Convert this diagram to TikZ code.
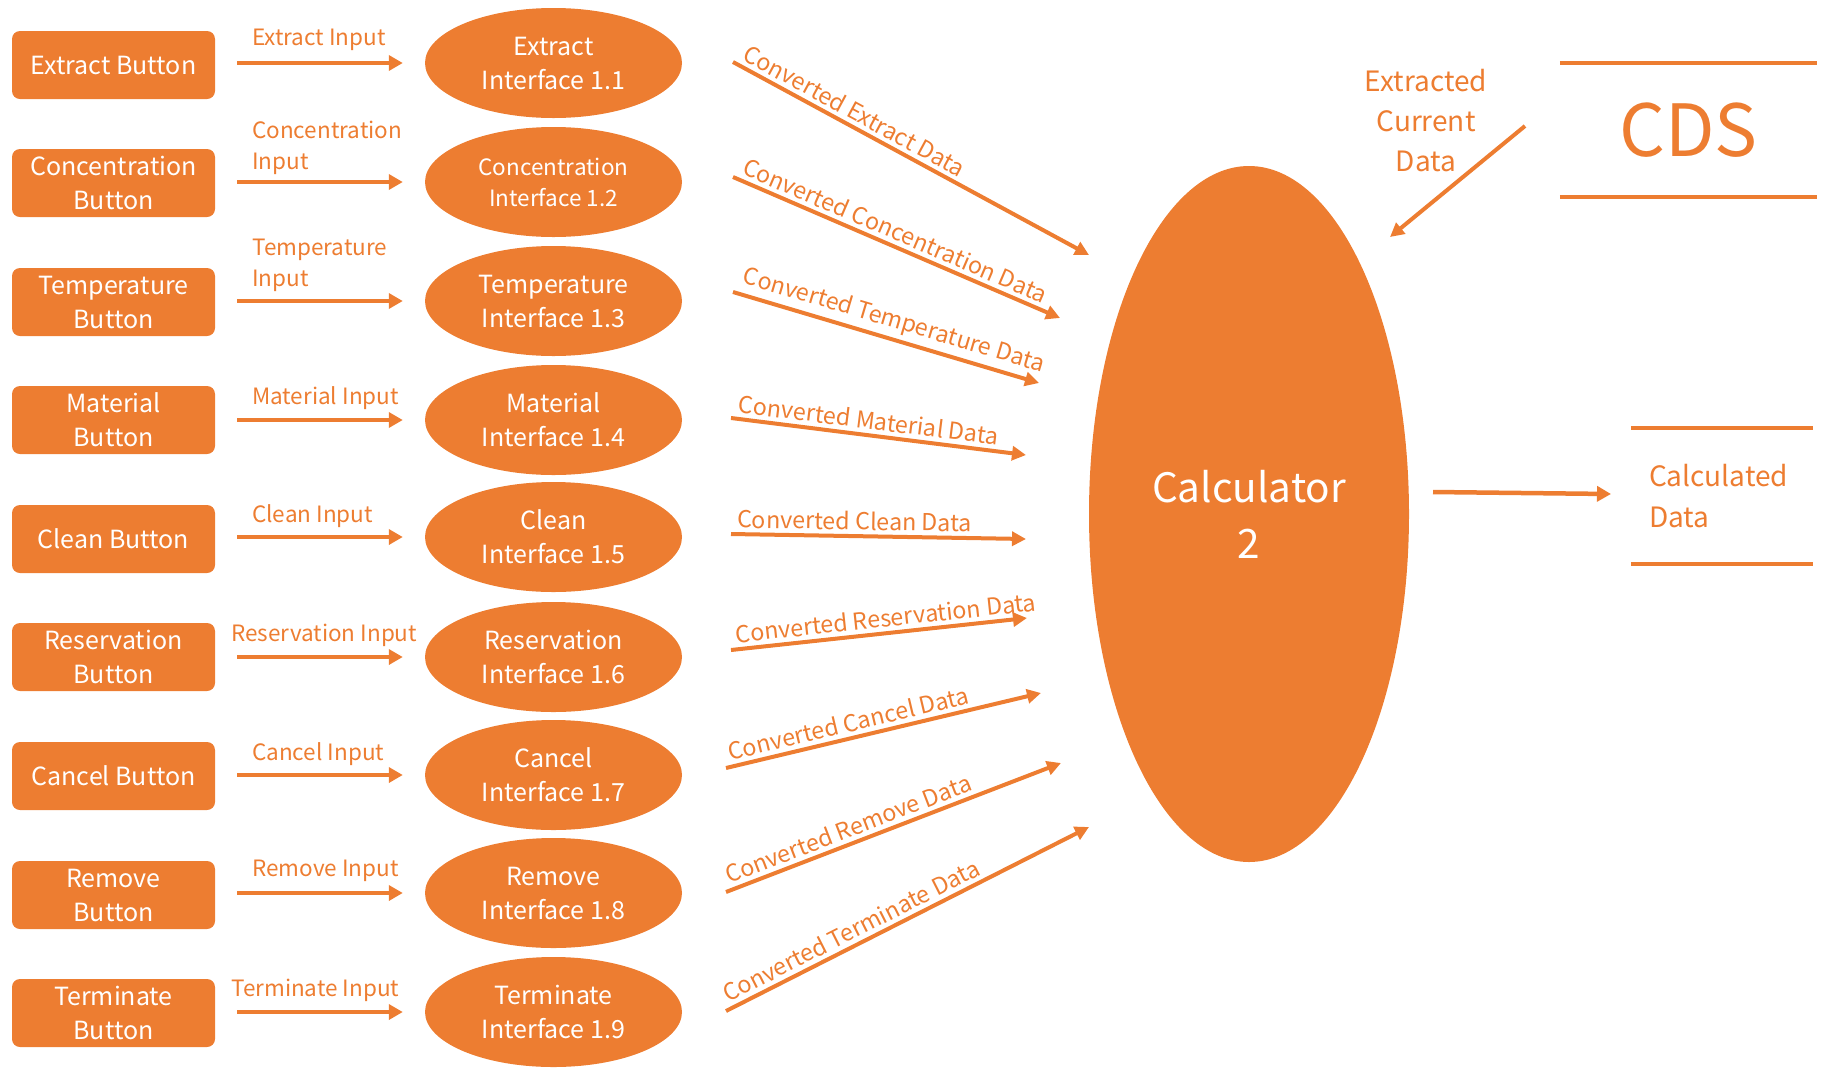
\documentclass[tikz,border=0pt]{standalone}
\usepackage{fontspec}
\setmainfont{Noto Sans CJK KR}
\usetikzlibrary{arrows.meta,shapes.geometric,calc}
\definecolor{org}{HTML}{ED7D31}
\begin{document}
\begin{tikzpicture}[x=1pt,y=-1pt,
 btn/.style={rectangle,rounded corners=8pt,fill=org,text=white,minimum width=203pt,minimum height=68pt,align=center,inner sep=0pt,font=\fontsize{25}{34}\selectfont},
 ifc/.style={ellipse,fill=org,text=white,minimum width=257pt,minimum height=110pt,inner sep=0pt,align=center,font=\fontsize{25}{34}\selectfont},
 flow/.style={draw=org,line width=4.5pt,-{Triangle[length=14pt,width=15pt]}},
 cflow/.style={draw=org,line width=4pt,-{Triangle[length=14pt,width=14pt]}},
 lbl/.style={text=org,font=\fontsize{22.5}{31}\selectfont,align=left,inner sep=0pt,anchor=west},
 clbl/.style={text=org,font=\fontsize{23.3}{26}\selectfont,inner sep=4pt,sloped,pos=0,anchor=south west},
 store/.style={draw=org,line width=3.5pt},
]
\useasboundingbox (0,0) rectangle (1831,1069);

% buttons
\node[btn] (b1) at (113.5,65) {Extract Button};
\node[btn] (b2) at (113.5,183) {Concentration\\Button};
\node[btn] (b3) at (113.5,302) {Temperature\\Button};
\node[btn] (b4) at (113.5,420) {Material\\Button};
\node[btn] (b5) at (113.5,539) {Clean Button};
\node[btn] (b6) at (113.5,657) {Reservation\\Button};
\node[btn] (b7) at (113.5,776) {Cancel Button};
\node[btn] (b8) at (113.5,895) {Remove\\Button};
\node[btn] (b9) at (113.5,1013) {Terminate\\Button};

% interfaces
\node[ifc] (i1) at (553.5,63) {Extract\\Interface 1.1};
\node[ifc,font=\fontsize{22.5}{31}\selectfont] (i2) at (553.5,182) {Concentration\\Interface 1.2};
\node[ifc] (i3) at (553.5,301) {Temperature\\Interface 1.3};
\node[ifc] (i4) at (553.5,420) {Material\\Interface 1.4};
\node[ifc] (i5) at (553.5,537) {Clean\\Interface 1.5};
\node[ifc] (i6) at (553.5,657) {Reservation\\Interface 1.6};
\node[ifc] (i7) at (553.5,775) {Cancel\\Interface 1.7};
\node[ifc] (i8) at (553.5,893) {Remove\\Interface 1.8};
\node[ifc] (i9) at (553.5,1012) {Terminate\\Interface 1.9};

% input arrows
\foreach \k in {1,...,9}{
  \draw[flow] ($(b\k.east|-i\k.center)+(22,0)$) -- ($(i\k.west)+(-22,0)$);
}

% input labels
\node[lbl] (l1) at (252,40) {Extract Input};
\node[lbl] (l2) at (252,147.5) {Concentration\\Input};
\node[lbl] (l3) at (252,265) {Temperature\\Input};
\node[lbl] (l4) at (252,398) {Material Input};
\node[lbl] (l5) at (252,516) {Clean Input};
\node[lbl] (l6) at (231,635) {Reservation Input};
\node[lbl] (l7) at (252,754) {Cancel Input};
\node[lbl] (l8) at (252,871) {Remove Input};
\node[lbl] (l9) at (231,990) {Terminate Input};

% calculator
\node[ellipse,fill=org,text=white,minimum width=320pt,minimum height=696pt,inner sep=0pt,align=center,font=\fontsize{40.5}{56}\selectfont] (calc) at (1249,514) {Calculator\\2};

% converted flows
\coordinate (s1) at (733,62);  \coordinate (e1) at (1089,255);
\coordinate (s2) at (733,177); \coordinate (e2) at (1060,318);
\coordinate (s3) at (733,292); \coordinate (e3) at (1039,383);
\coordinate (s4) at (731,418); \coordinate (e4) at (1026,455);
\coordinate (s5) at (731,534); \coordinate (e5) at (1026,539);
\coordinate (s6) at (731,650); \coordinate (e6) at (1027,618);
\coordinate (s7) at (726,768); \coordinate (e7) at (1041,693);
\coordinate (s8) at (726,892); \coordinate (e8) at (1061,763);
\coordinate (s9) at (726,1011);\coordinate (e9) at (1089,827);
\draw[cflow] (s1) -- node[clbl] (c1) {Converted Extract Data} (e1);
\draw[cflow] (s2) -- node[clbl] (c2) {Converted Concentration Data} (e2);
\draw[cflow] (s3) -- node[clbl] (c3) {Converted Temperature Data} (e3);
\draw[cflow] (s4) -- node[clbl] (c4) {Converted Material Data} (e4);
\draw[cflow] (s5) -- node[clbl] (c5) {Converted Clean Data} (e5);
\draw[cflow] (s6) -- node[clbl] (c6) {Converted Reservation Data} (e6);
\draw[cflow] (s7) -- node[clbl] (c7) {Converted Cancel Data} (e7);
\draw[cflow] (s8) -- node[clbl] (c8) {Converted Remove Data} (e8);
\draw[cflow] (s9) -- node[clbl] (c9) {Converted Terminate Data} (e9);

% CDS store
\node[text=org,minimum width=257pt,minimum height=134pt,inner sep=0pt,font=\fontsize{72}{80}\selectfont] (cds) at (1688.5,130) {CDS};
\draw[store] (cds.north west) -- (cds.north east);
\draw[store] (cds.south west) -- (cds.south east);

% extracted current data
\node[text=org,align=center,font=\fontsize{28}{40}\selectfont] (ecd) at (1426,121) {Extracted\\Current\\Data};
\coordinate (x1) at (1525,126);
\coordinate (x2) at (1390,237);
\draw[cflow] (x1) -- (x2);

% calculated data store
\node[text=org,minimum width=182pt,minimum height=135.5pt,inner xsep=18pt,inner ysep=0pt,text width=146pt,align=left,font=\fontsize{28}{41}\selectfont] (cd) at (1722,496) {Calculated\\Data};
\draw[store] (cd.north west) -- (cd.north east);
\draw[store] (cd.south west) -- (cd.south east);

\coordinate (o1) at (1433,492);
\coordinate (o2) at (1611,494);
\draw[flow] (o1) -- (o2);
\end{tikzpicture}
\end{document}
